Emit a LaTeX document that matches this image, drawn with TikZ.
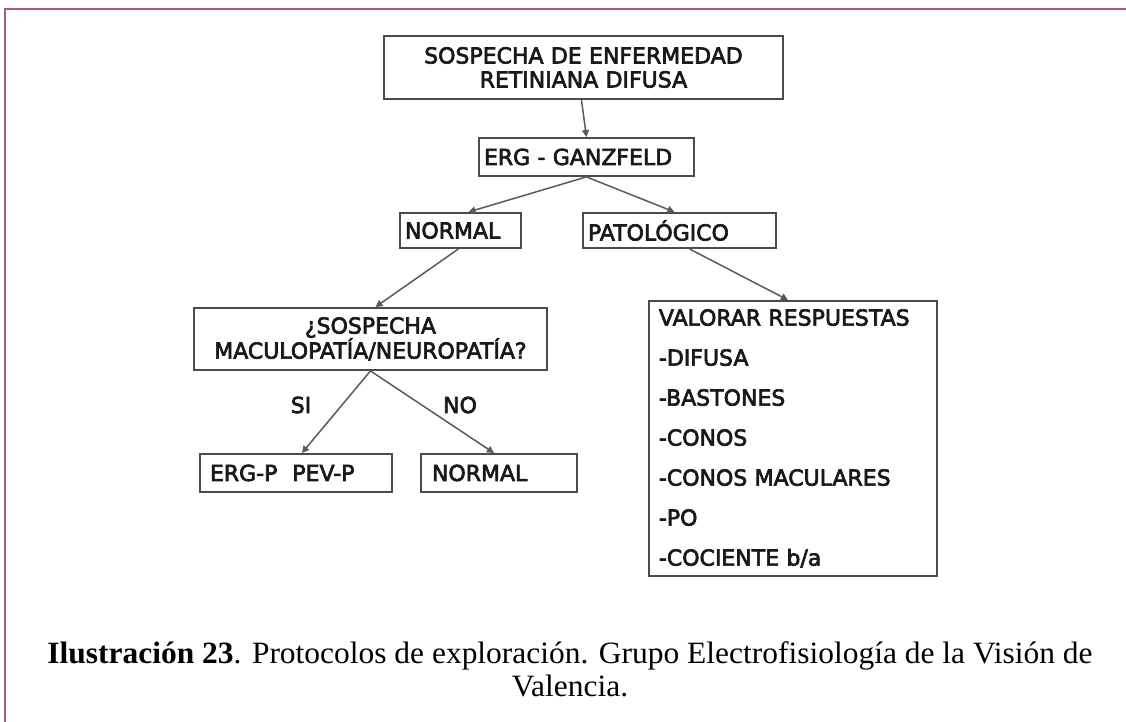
\documentclass[tikz,border=0pt]{standalone}
\usepackage{fontspec}
\usepackage{graphicx}
\setmainfont{DejaVu Sans}
\newfontfamily\boxfont{DejaVu Sans}[FakeBold=3]
\newfontfamily\capfont{Liberation Serif}
\usetikzlibrary{arrows.meta}
\definecolor{framec}{RGB}{170,90,125}
\definecolor{boxc}{RGB}{75,75,75}
\definecolor{txtc}{RGB}{25,25,25}
\definecolor{linec}{RGB}{90,90,90}
\begin{document}
\begin{tikzpicture}[x=1pt,y=-1pt,
  box/.style={draw=boxc, line width=1.9pt, rectangle, anchor=north west,
    inner xsep=5pt, inner ysep=0pt, font=\boxfont\fontsize{22}{24}\selectfont,
    text=txtc, align=left},
  cbox/.style={box, align=center},
  conn/.style={draw=linec, line width=1.5pt, -{Triangle[length=7pt,width=7pt]}},
  lbl/.style={font=\boxfont\fontsize{22}{24}\selectfont, text=txtc}]
\useasboundingbox (0,0) rectangle (1126,722);
\fill[white] (0,0) rectangle (1126,722);
\draw[framec, line width=2pt] (1126,9) -- (5,9) -- (5,722);

\node[cbox, text width=389pt, minimum height=63pt] (top) at (383,35)
  {SOSPECHA DE ENFERMEDAD\\RETINIANA DIFUSA};
\node[box, text width=205pt, minimum height=38pt] (erg) at (478,137)
  {ERG - GANZFELD};
\node[box, text width=111pt, minimum height=35pt] (normal) at (399,212)
  {NORMAL};
\node[box, text width=183pt, minimum height=35pt] (patol) at (582,212)
  {PATOLÓGICO};
\node[cbox, text width=343pt, minimum height=62pt, font=\boxfont\fontsize{22}{25}\selectfont] (sosp) at (193,307)
  {¿SOSPECHA\\MACULOPATÍA/NEUROPATÍA?};
\node[box, inner xsep=10pt, text width=268pt, minimum height=275pt, font=\boxfont\fontsize{22}{40}\selectfont] (valor) at (648,300)
  {VALORAR RESPUESTAS\\-DIFUSA\\-BASTONES\\-CONOS\\-CONOS MACULARES\\-PO\\-COCIENTE b/a};
\node[box, inner xsep=10pt, text width=172pt, minimum height=38pt] (ergp) at (199,453)
  {ERG-P\hspace{15pt}PEV-P};
\node[box, inner xsep=11pt, text width=134pt, minimum height=38pt] (normal2) at (420,453)
  {NORMAL};

\node[lbl] (si) at (301,405) {SI};
\node[lbl] (no) at (460,405) {NO};

\draw[conn] ([xshift=-2pt]top.south) -- (erg.north);
\draw[conn] (erg.south) -- ([xshift=8pt]normal.north);
\draw[conn] (erg.south) -- ([xshift=-5pt]patol.north);
\draw[conn] ([xshift=-2pt]normal.south) -- ([xshift=5pt]sosp.north);
\draw[conn] ([xshift=10pt]patol.south) -- ([xshift=-5pt]valor.north);
\draw[conn] (sosp.south) -- ([xshift=6pt]ergp.north);
\draw[conn] (sosp.south) -- ([xshift=-5pt]normal2.north);

\node (cap) at (570,673) {\resizebox{1045pt}{\height}{\capfont\fontsize{31}{33}\selectfont
  \begin{tabular}{@{}c@{}}\textbf{Ilustración 23}. Protocolos de exploración. Grupo Electrofisiología de la Visión de\\Valencia.\end{tabular}}};
\end{tikzpicture}
\end{document}
